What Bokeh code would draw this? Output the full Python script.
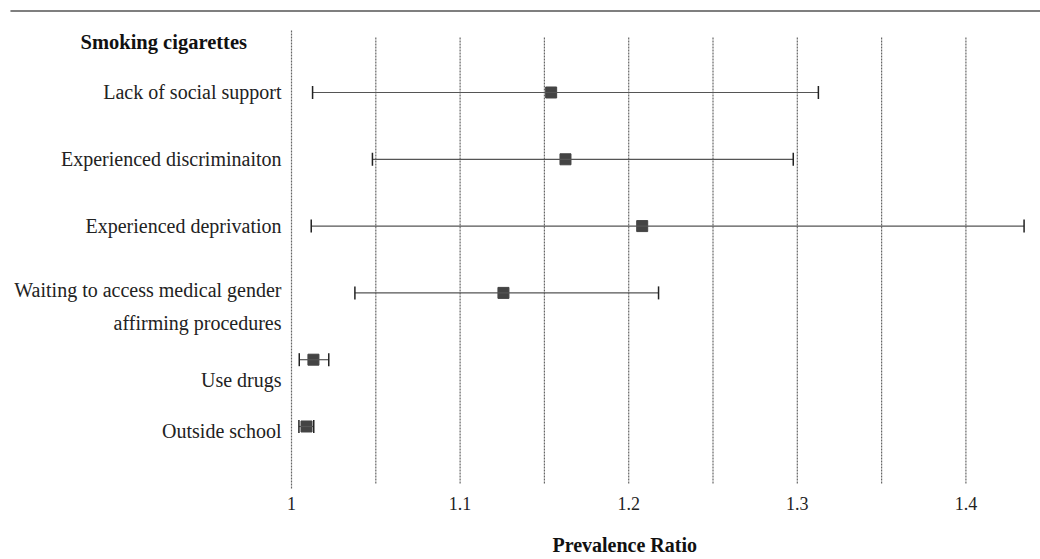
from bokeh.plotting import figure
from bokeh.models import ColumnDataSource, Range1d, Whisker, TeeHead
from bokeh.core.properties import value
from bokeh.embed import file_html
from bokeh.resources import INLINE

# ---- data ----
labels = ["Lack of social support", "Experienced discriminaiton", "Experienced deprivation",
          "Waiting to access medical gender\naffirming procedures", "Use drugs", "Outside school"]
rows = [1, 2, 3, 4, 5, 6]
pr = [1.154, 1.1625, 1.208, 1.1257, 1.013, 1.0089]
ci_low = [1.0125, 1.048, 1.0117, 1.0376, 1.0046, 1.0044]
ci_high = [1.3125, 1.2976, 1.4345, 1.2177, 1.0221, 1.0132]
label_shift_px = [0, 0, 0, 14, 20, 5]
header = "Smoking cigarettes"
grid_values = [1.05, 1.1, 1.15, 1.2, 1.25, 1.3, 1.35, 1.4]
tick_values = [1.0, 1.1, 1.2, 1.3, 1.4]
tick_labels = ["1", "1.1", "1.2", "1.3", "1.4"]
x_title = "Prevalence Ratio"

FONT = "Liberation Serif"
W, H = 1040, 559

p = figure(width=W, height=H, output_backend="svg", toolbar_location=None,
           x_range=Range1d(0.82740, 1.44424), y_range=Range1d(7.991, -0.377),
           min_border=0, x_axis_type=None, y_axis_type=None)
p.outline_line_color = None
p.xgrid.visible = False
p.ygrid.visible = False
p.background_fill_color = "white"
p.border_fill_color = "white"

# vertical dotted grid lines
p.segment(x0=grid_values, x1=grid_values, y0=[0.177] * len(grid_values), y1=[6.853] * len(grid_values),
          line_color="#666666", line_width=1.2, line_dash="2 1")
p.segment(x0=[1.0], x1=[1.0], y0=[0.072], y1=[6.928],
          line_color="#666666", line_width=1.2, line_dash="2 1")

# top rule
p.segment(x0=[0.8333], x1=[1.4442], y0=[-0.22], y1=[-0.22], line_color="#555555", line_width=1.5)

# x tick labels (placed by the x scale)
p.text(x=tick_values, y=[7.153] * len(tick_values), text=tick_labels,
       text_align="center", text_baseline="middle", text_font=value(FONT),
       text_font_size="18px", text_color="#222222")

# x axis title
p.text(x=[1.2], y=[7.781], text=[x_title], x_offset=-4, text_align="center", text_baseline="middle",
       text_font=value(FONT), text_font_size="20px", text_font_style="bold", text_color="#111111")

src = ColumnDataSource(dict(y=rows, pr=pr, lo=ci_low, hi=ci_high, label=labels, shift=label_shift_px))

wh = Whisker(base="y", lower="lo", upper="hi", dimension="width", source=src,
             line_color="#555555", line_width=1.2, level="overlay",
             lower_head=TeeHead(size=13, line_color="#222222", line_width=1.5),
             upper_head=TeeHead(size=13, line_color="#222222", line_width=1.5))
p.add_layout(wh)

p.scatter(x="pr", y="y", source=src, marker="square", size=11,
          fill_color="#444444", line_color="#444444")

# row labels
p.text(x=1.0, y="y", text="label", source=src, x_offset=-10, y_offset="shift",
       text_align="right", text_baseline="middle", text_font=value(FONT),
       text_font_size="20px", text_color="#222222", text_line_height=1.5)

# header
p.text(x=[1.0], y=[0.25], text=[header], x_offset=-211, text_align="left", text_baseline="middle",
       text_font=value(FONT), text_font_size="20.5px", text_font_style="bold", text_color="#111111")

open("out.html", "w").write(file_html(p, INLINE))
